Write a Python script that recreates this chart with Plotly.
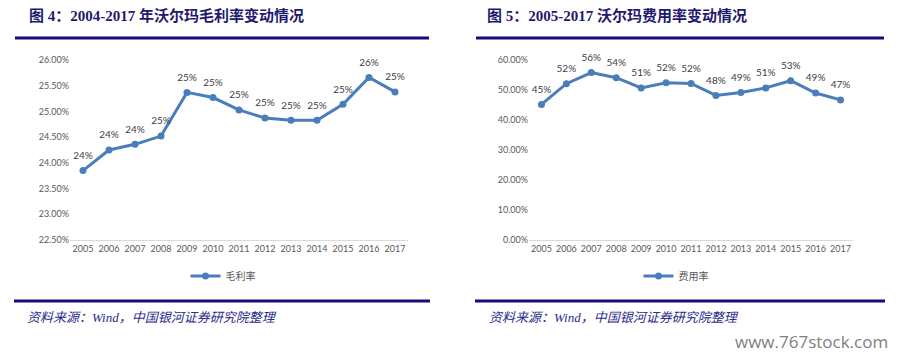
import plotly.graph_objects as go

# The page body has an 8px margin, so the figure is drawn 8px in from the
# top-left corner; work in reference-pixel coordinates and shift by that.
OFF = 8
W, H = 899 - OFF, 355 - OFF

years = ["2005", "2006", "2007", "2008", "2009", "2010", "2011", "2012",
         "2013", "2014", "2015", "2016", "2017"]
gross_margin = [23.85, 24.25, 24.36, 24.52, 25.37, 25.27, 25.03, 24.87,
                24.83, 24.83, 25.14, 25.66, 25.38]
expense_ratio = [45.2, 52.1, 55.8, 54.1, 50.7, 52.4, 52.2, 48.2,
                 49.2, 50.7, 53.1, 49.0, 46.7]

left_ticks = [22.5, 23.0, 23.5, 24.0, 24.5, 25.0, 25.5, 26.0]
right_ticks = [0, 10, 20, 30, 40, 50, 60]

title_left = "图 4：2004-2017 年沃尔玛毛利率变动情况"
title_right = "图 5：2005-2017 沃尔玛费用率变动情况"
source_text = "资料来源：Wind，中国银河证券研究院整理"
watermark = "www.767stock.com"
name_left = "毛利率"
name_right = "费用率"


def px(x):
    return (x - OFF) / W


def py(y):
    return 1 - (y - OFF) / H


LINE = "#4a7ebb"
NAVY = "#1a0a7a"
TICK_FONT = dict(family="Lato, Noto Sans CJK SC", size=9, color="#595959")
LABEL_FONT = dict(family="Lato", size=10, color="#404040")

fig = go.Figure()

series = [
    (gross_margin, name_left, "x", "y", "legend"),
    (expense_ratio, name_right, "x2", "y2", "legend2"),
]
for vals, name, xa, ya, lg in series:
    fig.add_trace(go.Scatter(
        x=years, y=vals, name=name, mode="lines+markers",
        line=dict(color=LINE, width=3), marker=dict(size=7, color=LINE),
        xaxis=xa, yaxis=ya, legend=lg, cliponaxis=False,
    ))
    # data labels: transparent, larger markers push the text a bit higher
    fig.add_trace(go.Scatter(
        x=years, y=vals, mode="markers+text", showlegend=False,
        marker=dict(size=13, color="rgba(0,0,0,0)"),
        text=[f"{v:.0f}%" for v in vals], textposition="top center",
        textfont=LABEL_FONT, xaxis=xa, yaxis=ya, cliponaxis=False,
        hoverinfo="skip",
    ))

xcommon = dict(type="category", showgrid=False, zeroline=False, showline=True,
               linecolor="#d9d9d9", linewidth=1, ticks="", tickfont=TICK_FONT,
               range=[-0.5, 12.5], fixedrange=True)
ycommon = dict(showgrid=False, zeroline=False, showline=False, ticks="",
               tickfont=TICK_FONT, fixedrange=True)

legend_font = dict(family="Noto Sans CJK SC", size=10, color="#595959")
fig.update_layout(
    width=W, height=H, margin=dict(l=0, r=0, t=0, b=0, autoexpand=False),
    paper_bgcolor="white", plot_bgcolor="white",
    xaxis=dict(domain=[px(70), px(408)], anchor="y", **xcommon),
    yaxis=dict(domain=[py(240), py(60)], anchor="x", range=[22.5, 26],
               tickvals=left_ticks, ticktext=[f"{v:.2f}%" for v in left_ticks],
               **ycommon),
    xaxis2=dict(domain=[px(529), px(853)], anchor="y2", **xcommon),
    yaxis2=dict(domain=[py(240), py(60)], anchor="x2", range=[0, 60],
                tickvals=right_ticks, ticktext=[f"{v:.2f}%" for v in right_ticks],
                **ycommon),
    legend=dict(x=px(223), y=py(276), xanchor="center", yanchor="middle",
                orientation="h", font=legend_font,
                bgcolor="rgba(0,0,0,0)", itemwidth=30),
    legend2=dict(x=px(676), y=py(276), xanchor="center", yanchor="middle",
                 orientation="h", font=legend_font,
                 bgcolor="rgba(0,0,0,0)", itemwidth=30),
    showlegend=True,
)

# header / footer rules
for x0, x1, y in [(15, 429, 38), (476, 884, 38), (14, 430, 301), (475, 885, 301)]:
    fig.add_shape(type="line", xref="paper", yref="paper",
                  x0=px(x0), x1=px(x1), y0=py(y), y1=py(y),
                  line=dict(color=NAVY, width=3))

title_font = dict(family="Liberation Serif, Noto Sans CJK SC", size=15, color="#1f1a6e")
fig.add_annotation(text=f"<b>{title_left}</b>", x=px(27), y=py(15), xref="paper", yref="paper",
                   xanchor="left", yanchor="middle", showarrow=False, font=title_font)
fig.add_annotation(text=f"<b>{title_right}</b>", x=px(485), y=py(15), xref="paper", yref="paper",
                   xanchor="left", yanchor="middle", showarrow=False, font=title_font)

src_font = dict(family="Liberation Serif, Noto Sans CJK SC", size=13, color="#2b2b8c")
for x in (25, 487):
    fig.add_annotation(text=f"<i>{source_text}</i>", x=px(x), y=py(317), xref="paper", yref="paper",
                       xanchor="left", yanchor="middle", showarrow=False, font=src_font)

fig.add_annotation(text=watermark, x=px(890), y=py(341), xref="paper", yref="paper",
                   xanchor="right", yanchor="middle", showarrow=False,
                   font=dict(family="Open Sans", size=17, color="#808080"))

fig.write_html("out.html")
